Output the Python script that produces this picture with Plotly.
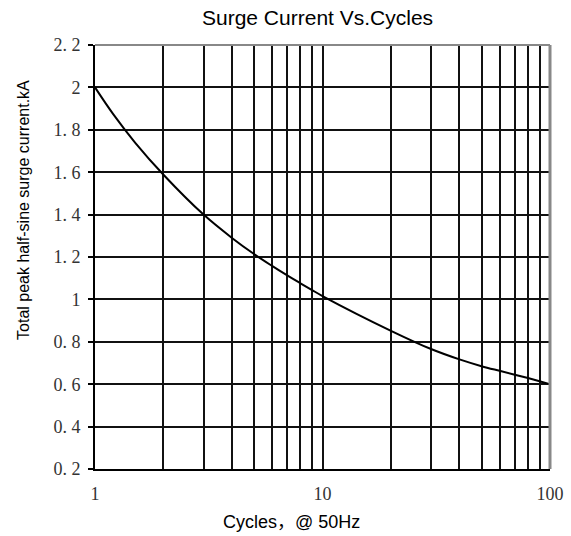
import plotly.graph_objects as go

cycles = [1, 1.2, 1.5, 2, 3, 4, 5, 6, 7, 8, 9, 10, 20, 30, 40, 50, 60, 70, 80, 90, 100]
current_kA = [2.0, 1.875, 1.74, 1.588, 1.40, 1.29, 1.214, 1.158, 1.113, 1.076, 1.044, 1.016,
              0.852, 0.766, 0.717, 0.685, 0.663, 0.645, 0.629, 0.614, 0.60]

x_tick_vals = [1, 10, 100]
x_tick_text = ["1", "10", "100"]
x_minor_vals = [2, 3, 4, 5, 6, 7, 8, 9, 20, 30, 40, 50, 60, 70, 80, 90]
y_tick_vals = [0.2, 0.4, 0.6, 0.8, 1.0, 1.2, 1.4, 1.6, 1.8, 2.0, 2.2]
y_tick_text = ["0. 2", "0. 4", "0. 6", "0. 8", "1", "1. 2", "1. 4", "1. 6", "1. 8", "2", "2. 2"]

title_text = "Surge Current Vs.Cycles"
x_title_text = "Cycles，@ 50Hz"
y_title_text = "Total peak half-sine surge current.kA"

fig = go.Figure()
fig.add_trace(go.Scatter(
    x=cycles, y=current_kA, mode="lines",
    line=dict(color="black", width=2, shape="spline", smoothing=1.0),
    showlegend=False, hoverinfo="x+y",
))

tick_font = dict(family="Liberation Serif, DejaVu Serif, serif", size=18, color="#333")
sans = "Liberation Sans, Arial, Noto Sans CJK SC, sans-serif"

fig.update_layout(
    width=571, height=536,
    margin=dict(l=95, r=21, t=45, b=67, autoexpand=False),
    paper_bgcolor="white", plot_bgcolor="white",
    xaxis=dict(
        type="log", range=[0, 2], automargin=False,
        tickvals=x_tick_vals, ticktext=x_tick_text, tickfont=tick_font,
        showgrid=True, gridcolor="#111", gridwidth=2,
        minor=dict(tickvals=x_minor_vals, showgrid=True, gridcolor="#111", gridwidth=2, ticks=""),
        showline=True, linecolor="black", linewidth=2, mirror=False,
        ticks="", ticklabelstandoff=7, zeroline=False,
    ),
    yaxis=dict(
        range=[0.2, 2.2], automargin=False,
        tickvals=y_tick_vals, ticktext=y_tick_text, tickfont=tick_font,
        showgrid=True, gridcolor="#111", gridwidth=2,
        showline=True, linecolor="black", linewidth=2, mirror=False,
        ticks="outside", ticklen=5, tickcolor="black", tickwidth=2, zeroline=False,
        ticklabelstandoff=4,
    ),
    shapes=[
        dict(type="line", xref="paper", yref="paper", x0=0, x1=1, y0=1, y1=1,
             line=dict(color="#888", width=2), layer="above"),
        dict(type="line", xref="paper", yref="paper", x0=1, x1=1, y0=0, y1=1,
             line=dict(color="#888", width=3), layer="above"),
    ],
    annotations=[
        dict(text=title_text, xref="paper", yref="paper", x=0.489, y=1.0, yshift=14,
             xanchor="center", yanchor="bottom", showarrow=False,
             font=dict(family=sans, size=21, color="black")),
        dict(text=x_title_text, xref="paper", yref="paper", x=0.431, y=0, yshift=-41,
             xanchor="center", yanchor="top", showarrow=False,
             font=dict(family=sans, size=18, color="black")),
        dict(text=y_title_text, xref="paper", yref="paper", x=0, xshift=-71, y=0.611,
             xanchor="center", yanchor="middle", textangle=-90, showarrow=False,
             font=dict(family=sans, size=16, color="black")),
    ],
)

fig.write_html("out.html", config={"displayModeBar": False},
               post_script="document.body.style.margin='0';")
